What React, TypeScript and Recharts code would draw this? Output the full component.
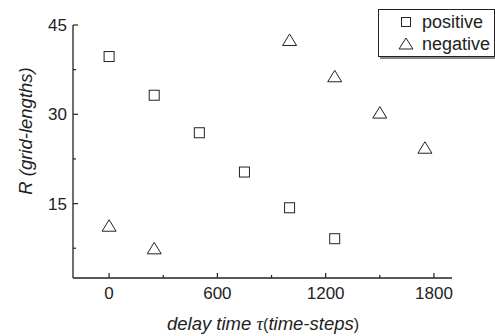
import { ScatterChart, Scatter, XAxis, YAxis, Legend } from "recharts"

// R against delay time
const positiveTimes = [0, 250, 500, 750, 1000, 1250]
const positiveR = [39.7, 33.2, 26.9, 20.3, 14.3, 9.1]
const negativeTimes = [0, 250, 1000, 1250, 1500, 1750]
const negativeR = [11.2, 7.4, 42.4, 36.3, 30.2, 24.3]

const xTicks = [0, 300, 600, 900, 1200, 1500, 1800]
const xLabelled = [0, 600, 1200, 1800]
const yTicks = [7.5, 15, 22.5, 30, 37.5, 45]
const yLabelled = [15, 30, 45]

const positive = positiveTimes.map((t, i) => ({ t, r: positiveR[i] }))
const negative = negativeTimes.map((t, i) => ({ t, r: negativeR[i] }))

const ink = "#222"
const font = "'Liberation Sans', Arial, sans-serif"

function Square(props: any) {
  const { cx, cy } = props
  return <rect x={cx - 5} y={cy - 5} width={10} height={10} fill="#fff" stroke={ink} strokeWidth={1} />
}

function Triangle(props: any) {
  const { cx, cy } = props
  return (
    <polygon
      points={`${cx},${cy - 6.5} ${cx - 7},${cy + 5} ${cx + 7},${cy + 5}`}
      fill="#fff"
      stroke={ink}
      strokeWidth={1}
    />
  )
}

function XTick(props: any) {
  const { x, y, payload } = props
  const major = xLabelled.includes(payload.value)
  return (
    <g>
      <line x1={x} x2={x} y1={y} y2={y - (major ? 5 : 3)} stroke={ink} strokeWidth={1.2} />
      {major && (
        <text x={x} y={y + 21} textAnchor="middle" fontSize={17} fill={ink} fontFamily={font}>
          {payload.value}
        </text>
      )}
    </g>
  )
}

function YTick(props: any) {
  const { x, y, payload } = props
  const major = yLabelled.includes(payload.value)
  return (
    <g>
      <line x1={x} x2={x + (major ? 5 : 3)} y1={y} y2={y} stroke={ink} strokeWidth={1.2} />
      {major && (
        <text x={x - 6} y={y + 6} textAnchor="end" fontSize={17} fill={ink} fontFamily={font}>
          {payload.value}
        </text>
      )}
    </g>
  )
}

function LegendBox() {
  const row = { display: "flex", alignItems: "center", height: 22 }
  return (
    <div
      style={{
        border: `1px solid ${ink}`,
        boxShadow: "2px 2px 0 #888",
        background: "#fff",
        fontFamily: font,
        fontSize: 18,
        color: ink,
        padding: "1px 0 1px 19px",
        width: 96,
        lineHeight: "22px",
      }}
    >
      <div style={row}>
        <svg width={24} height={22}>
          <rect x={3.5} y={6.5} width={9} height={9} fill="#fff" stroke={ink} />
        </svg>
        <span>positive</span>
      </div>
      <div style={row}>
        <svg width={24} height={22}>
          <polygon points="8,5 1,16 15,16" fill="#fff" stroke={ink} />
        </svg>
        <span>negative</span>
      </div>
    </div>
  )
}

export default function App() {
  return (
    <div style={{ position: "absolute", left: 0, top: 0, background: "#fff" }}>
      <ScatterChart width={495} height={336} margin={{ top: 25, right: 43, left: 33, bottom: 28 }}>
        <XAxis
          type="number"
          dataKey="t"
          domain={[-200, 1900]}
          ticks={xTicks}
          interval={0}
          height={30}
          tickSize={0}
          tickMargin={0}
          tick={<XTick />}
          stroke={ink}
          strokeWidth={1.3}
          label={{
            content: () => (
              <text x={263} y={330} textAnchor="middle" fontSize={18.5} fill={ink} fontFamily={font}>
                <tspan fontStyle="italic">delay time </tspan>
                <tspan fontFamily="'Liberation Serif', serif" fontStyle="italic">τ</tspan>
                <tspan fontSize={16}>(</tspan>
                <tspan fontStyle="italic">time-steps</tspan>
                <tspan fontSize={16}>)</tspan>
              </text>
            ),
          }}
        />
        <YAxis
          type="number"
          dataKey="r"
          domain={[2.5, 45]}
          ticks={yTicks}
          interval={0}
          width={40}
          tickSize={0}
          tickMargin={0}
          tick={<YTick />}
          stroke={ink}
          strokeWidth={1.3}
          label={{
            content: () => (
              <text
                x={0}
                y={0}
                transform="translate(32,131) rotate(-90)"
                textAnchor="middle"
                fontSize={18.5}
                fontStyle="italic"
                fill={ink}
                fontFamily={font}
              >
                R (grid-lengths)
              </text>
            ),
          }}
        />
        <Legend
          layout="horizontal"
          verticalAlign="middle"
          align="center"
          content={<LegendBox />}
          wrapperStyle={{ position: "absolute", top: 9, left: 378, width: 116 }}
        />
        <Scatter name="positive" data={positive} shape={<Square />} isAnimationActive={false} />
        <Scatter name="negative" data={negative} shape={<Triangle />} isAnimationActive={false} />
      </ScatterChart>
    </div>
  )
}
